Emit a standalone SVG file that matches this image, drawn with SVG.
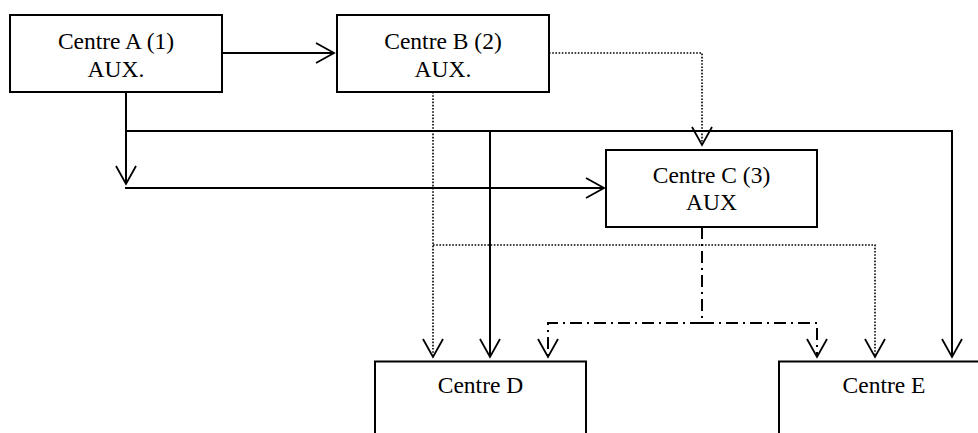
<svg xmlns="http://www.w3.org/2000/svg" width="978" height="433" viewBox="0 0 978 433">
<defs>
<style>
.box{fill:#fff;stroke:#000;stroke-width:2}
.t{font-family:"Liberation Serif","Times New Roman",serif;font-size:23.5px;text-anchor:middle;fill:#000}
.solid{fill:none;stroke:#000;stroke-width:2}
.dot{fill:none;stroke:#000;stroke-width:1.6;stroke-dasharray:1.6 1.6}
.dd{fill:none;stroke:#000;stroke-width:2;stroke-dasharray:12 5 2 5}
</style>
<marker id="arr" markerUnits="userSpaceOnUse" markerWidth="24" markerHeight="24" viewBox="-20 -12 24 24" refX="0" refY="0" orient="auto" overflow="visible">
<path d="M-18,-10 L0,0 L-18,10" fill="none" stroke="#000" stroke-width="1.8" stroke-dasharray="none"/>
</marker>
</defs>
<rect width="978" height="433" fill="#fff"/>
<g id="connectors">
<path class="solid" d="M222,53 H334" marker-end="url(#arr)"/>
<path class="dot" d="M549,53 H702 V145" marker-end="url(#arr)"/>
<path class="solid" d="M126,92 V184" marker-end="url(#arr)"/>
<path class="solid" d="M125,188 H604" marker-end="url(#arr)"/>
<path class="solid" d="M126,131 H952 V357" marker-end="url(#arr)"/>
<path class="solid" d="M490,131 V357" marker-end="url(#arr)"/>
<path class="dot" d="M433,92 V357" marker-end="url(#arr)"/>
<path class="dot" d="M433,245 H875 V357" marker-end="url(#arr)"/>
<path class="dd" d="M702,227 V323"/>
<path class="dd" d="M702,323 H548 V357" marker-end="url(#arr)"/>
<path class="dd" d="M702,323 H817 V357" marker-end="url(#arr)"/>
</g>
<g id="centreA">
<rect class="box" x="10" y="15" width="212" height="77"/>
<text class="t" x="116" y="49">Centre A (1)</text>
<text class="t" x="116" y="77">AUX.</text>
</g>
<g id="centreB">
<rect class="box" x="337" y="15" width="212" height="77"/>
<text class="t" x="443" y="49">Centre B (2)</text>
<text class="t" x="443" y="77">AUX.</text>
</g>
<g id="centreC">
<rect class="box" x="606" y="150" width="211" height="77"/>
<text class="t" x="711.5" y="183">Centre C (3)</text>
<text class="t" x="711.5" y="210">AUX</text>
</g>
<g id="centreD">
<rect class="box" x="375" y="361.5" width="211" height="80"/>
<text class="t" x="480.5" y="393">Centre D</text>
</g>
<g id="centreE">
<rect class="box" x="779" y="361.5" width="211" height="80"/>
<text class="t" x="884" y="393">Centre E</text>
</g>
</svg>
